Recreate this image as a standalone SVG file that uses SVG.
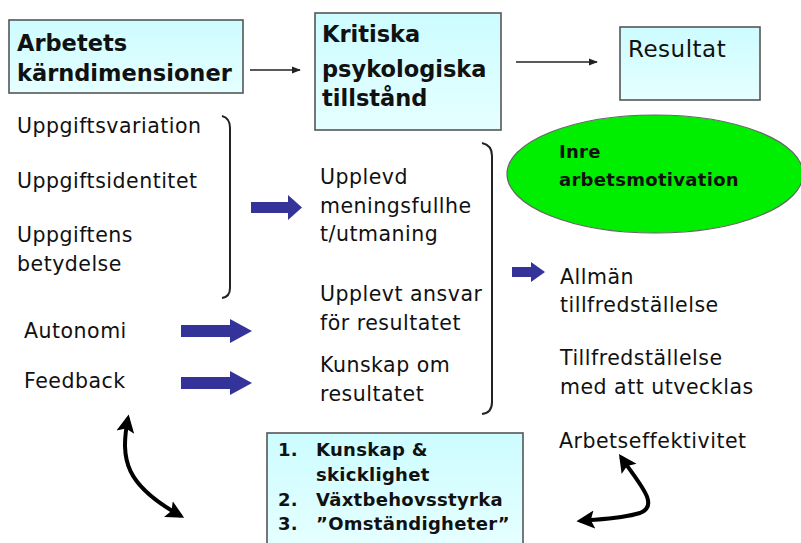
<svg xmlns="http://www.w3.org/2000/svg" width="801" height="543" viewBox="0 0 801 543">
<style>
text{font-family:"DejaVu Sans","Liberation Sans",sans-serif;fill:#111;}
.t{font-size:20.5px;letter-spacing:0.5px;}
.h{font-size:22.5px;font-weight:bold;}
.b{font-size:18px;font-weight:bold;letter-spacing:0.3px;}
.box{fill:url(#cy);stroke:#555;stroke-width:1.6;}
.thin{stroke:#222;stroke-width:1.5;fill:none;}
.br{stroke:#222;stroke-width:2;fill:none;}
.blk{fill:#333399;}
.curve{stroke:#000;stroke-width:4;fill:none;}
</style>
<defs>
<linearGradient id="cy" x1="0" y1="0" x2="0" y2="1">
<stop offset="0" stop-color="#ccfcff"/>
<stop offset="1" stop-color="#e6ffff"/>
</linearGradient>
<marker id="sm" viewBox="0 0 10 10" refX="9" refY="5" markerWidth="6" markerHeight="6" orient="auto">
<path d="M0,1 L10,5 L0,9 z" fill="#222"/>
</marker>
<marker id="big" viewBox="0 0 10 10" refX="8" refY="5" markerWidth="4.5" markerHeight="5" orient="auto-start-reverse">
<path d="M0,0 L10,5 L0,10 L2,5 z" fill="#000"/>
</marker>
</defs>

<g id="node-karndimensioner">
<rect class="box" x="9" y="20" width="234" height="73"/>
<text class="h" x="17" y="51">Arbetets</text>
<text class="h" x="17" y="81">kärndimensioner</text>
</g>

<g id="node-kritiska">
<rect class="box" x="315" y="13" width="186" height="117"/>
<text class="h" x="322" y="42">Kritiska</text>
<text class="h" x="322" y="77">psykologiska</text>
<text class="h" x="322" y="106">tillstånd</text>
</g>

<g id="node-resultat">
<rect class="box" x="620" y="27" width="140" height="73"/>
<text x="628" y="57" style="font-size:23px;letter-spacing:0.5px">Resultat</text>
</g>

<g id="node-inre">
<ellipse cx="655" cy="174" rx="148" ry="59" fill="#00ee00" stroke="#666" stroke-width="1.2"/>
<text class="b" x="559" y="158">Inre</text>
<text class="b" x="559" y="186">arbetsmotivation</text>
</g>

<g id="node-dimensions">
<text class="t" x="17" y="133">Uppgiftsvariation</text>
<text class="t" x="17" y="188">Uppgiftsidentitet</text>
<text class="t" x="17" y="242">Uppgiftens</text>
<text class="t" x="17" y="271">betydelse</text>
<text class="t" x="24" y="338">Autonomi</text>
<text class="t" x="24" y="388">Feedback</text>
</g>

<g id="node-states">
<text class="t" x="320" y="184">Upplevd</text>
<text class="t" x="320" y="213">meningsfullhe</text>
<text class="t" x="320" y="241">t/utmaning</text>
<text class="t" x="320" y="301">Upplevt ansvar</text>
<text class="t" x="320" y="330">för resultatet</text>
<text class="t" x="320" y="372">Kunskap om</text>
<text class="t" x="320" y="401">resultatet</text>
</g>

<g id="node-outcomes">
<text class="t" x="560" y="284">Allmän</text>
<text class="t" x="560" y="312">tillfredställelse</text>
<text class="t" x="560" y="365">Tillfredställelse</text>
<text class="t" x="560" y="394">med att utvecklas</text>
<text class="t" x="559" y="448">Arbetseffektivitet</text>
</g>

<g id="node-moderators">
<rect class="box" x="267" y="433" width="256" height="115"/>
<text class="b" x="278" y="456">1.</text>
<text class="b" x="316" y="456">Kunskap &amp;</text>
<text class="b" x="316" y="481">skicklighet</text>
<text class="b" x="278" y="506">2.</text>
<text class="b" x="316" y="506">Växtbehovsstyrka</text>
<text class="b" x="278" y="530">3.</text>
<text class="b" x="316" y="530">”Omständigheter”</text>
</g>

<g id="connectors">
<line class="thin" x1="250" y1="70" x2="300" y2="70" marker-end="url(#sm)"/>
<line class="thin" x1="516" y1="62" x2="597" y2="62" marker-end="url(#sm)"/>
<path class="br" d="M222,116 Q230,118 230,128 L230,288 Q230,297 222,298"/>
<path class="br" d="M482,143 Q492,145 492,156 L492,402 Q492,413 482,414"/>
<polygon class="blk" points="251,202 288,202 288,195 302,207.5 288,220 288,213 251,213"/>
<polygon class="blk" points="181,325 230,325 230,319 252,331 230,343 230,337 181,337"/>
<polygon class="blk" points="181,377 230,377 230,371 252,383 230,395 230,389 181,389"/>
<polygon class="blk" points="512,267 531,267 531,262 545,272 531,282 531,277 512,277"/>
<path class="curve" d="M128,418 C120,460 125,485 181,516" marker-start="url(#big)" marker-end="url(#big)"/>
<path class="curve" d="M621,457 C640,485 660,505 640,513 C620,519 600,519 580,521" marker-start="url(#big)" marker-end="url(#big)"/>
</g>
</svg>
